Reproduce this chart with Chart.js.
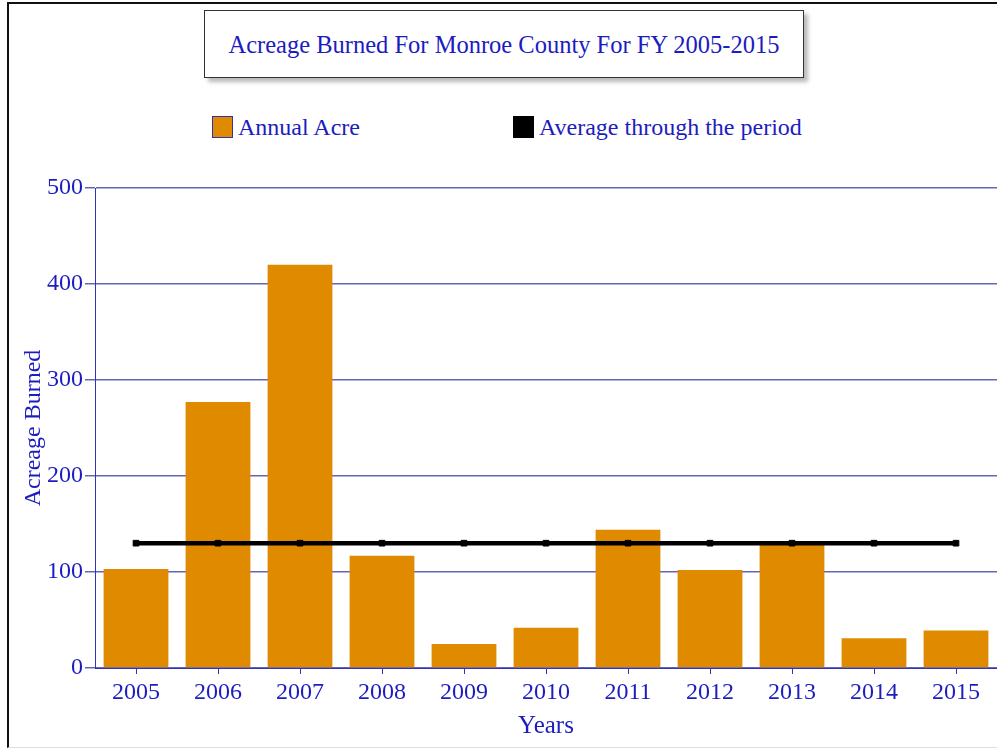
<!DOCTYPE html>
<html>
<head>
<meta charset="utf-8">
<script src="https://cdn.jsdelivr.net/npm/chart.js@4"></script>
<style>
  html, body { margin: 0; background: #fff; font-family: 'Liberation Serif', serif; overflow: hidden; }
  #frame { position: absolute; left: 7px; top: 2px; width: 1100px; height: 746px; border: 2px solid #111; border-bottom: 1px solid #ddd; box-sizing: border-box; }
  #title-box { position: absolute; left: 204px; top: 10px; width: 600px; height: 68px; border: 1px solid #333; background: #fff; box-shadow: 4px 4px 4px #bbb; color: #1c1cc0; font-size: 24.5px; line-height: 68px; text-align: center; box-sizing: border-box; }
  .legend { position: absolute; top: 114px; color: #1c1cc0; font-size: 24px; line-height: 26px; white-space: nowrap; }
  .legend span.box { display: inline-block; width: 21px; height: 22px; vertical-align: -3px; margin-right: 5px; box-sizing: border-box; }
  canvas { position: absolute; left: 0; top: 0; }
</style>
</head>
<body>
<div id="frame"></div>
<div id="title-box">Acreage Burned For Monroe County For FY 2005-2015</div>
<div id="legend"></div>
<canvas id="chart" width="997" height="750"></canvas>
<script>
/* Monroe County acreage chart */

const years = ['2005', '2006', '2007', '2008', '2009', '2010', '2011', '2012', '2013', '2014', '2015'];
const annualAcres = [103, 277, 420, 117, 25, 42, 144, 102, 130, 31, 39];
const averageAcres = [130, 130, 130, 130, 130, 130, 130, 130, 130, 130, 130];
const yTicks = [0, 100, 200, 300, 400, 500];

const blueText = '#1c1cc0';
const gridBlue = '#6464bc';
const axisBlue = '#3434b0';
const orange = '#e08a00';

// html legend, placed like the original
const legendItems = [
  { label: 'Annual Acre', color: orange, border: '#3030b0', left: 212 },
  { label: 'Average through the period', color: '#000', border: '#000', left: 513 }
];
document.getElementById('legend').innerHTML = legendItems.map(function(it) {
  return '<div class="legend" style="left:' + it.left + 'px">' +
    '<span class="box" style="background:' + it.color + ';border:1px solid ' + it.border + '"></span>' +
    it.label + '</div>';
}).join('');

new Chart(document.getElementById('chart'), {
  type: 'bar',
  data: {
    labels: years,
    datasets: [
      {
        type: 'line',
        label: 'Average through the period',
        data: averageAcres,
        borderColor: '#000',
        backgroundColor: '#000',
        borderWidth: 4.5,
        pointStyle: 'rect',
        pointRadius: 4,
        pointBackgroundColor: '#000',
        pointBorderColor: '#000',
        pointBorderWidth: 1,
        order: 0
      },
      {
        label: 'Annual Acre',
        data: annualAcres,
        backgroundColor: orange,
        borderWidth: 0,
        barPercentage: 0.79,
        categoryPercentage: 1,
        order: 1
      }
    ]
  },
  options: {
    responsive: false,
    animation: false,
    layout: { autoPadding: false, padding: { top: 188, right: 0, bottom: 9, left: 0 } },
    plugins: {
      legend: { display: false },
      tooltip: { enabled: false }
    },
    scales: {
      x: {
        offset: true,
        afterFit: function(scale) {
          scale.height = 73;
          scale.paddingLeft = 0;
          scale.paddingRight = 0;
        },
        grid: { display: true, drawOnChartArea: false, drawTicks: true, tickLength: 6, color: axisBlue, offset: false },
        border: { display: true, color: axisBlue, width: 1 },
        ticks: { color: blueText, font: { family: 'Liberation Serif', size: 24 }, padding: 4, maxRotation: 0 },
        title: { display: true, text: 'Years', color: blueText, font: { family: 'Liberation Serif', size: 25 }, padding: { top: 0, bottom: 0 } }
      },
      y: {
        min: 0,
        max: 500,
        afterFit: function(scale) {
          scale.width = 95;
          scale.paddingTop = 0;
          scale.paddingBottom = 0;
        },
        afterBuildTicks: function(scale) { scale.ticks = yTicks.map(function(v) { return { value: v }; }); },
        grid: { color: gridBlue, lineWidth: 1.5, tickLength: 10, drawTicks: true },
        border: { display: true, color: axisBlue, width: 1 },
        ticks: { color: blueText, font: { family: 'Liberation Serif', size: 24 }, padding: 2 },
        title: { display: true, text: 'Acreage Burned', color: blueText, font: { family: 'Liberation Serif', size: 24 }, padding: { top: 19, bottom: 0 } }
      }
    }
  }
});
</script>
</body>
</html>
